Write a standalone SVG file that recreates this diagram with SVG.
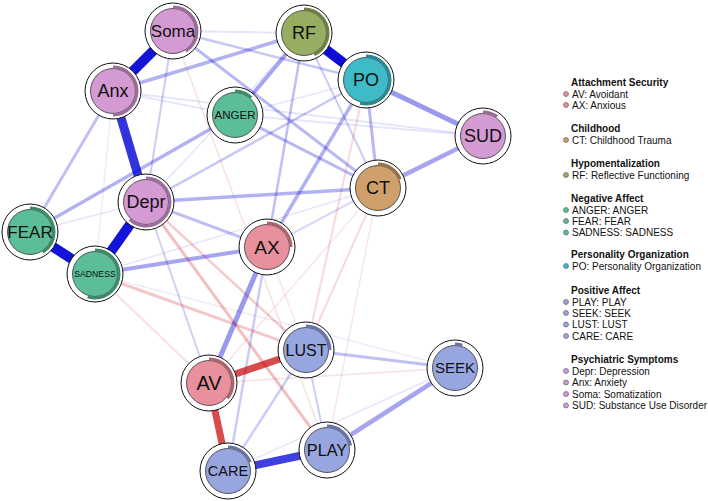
<svg xmlns="http://www.w3.org/2000/svg" width="708" height="501" viewBox="0 0 708 501">
<style>
.p{stroke:#0000D5;fill:none}
.n{stroke:#C80000;fill:none}
.ring{fill:#fff;stroke:#111;stroke-width:1}
.in{stroke:#333;stroke-width:0.8}
.pie{fill:none;stroke-width:3}
.lbl{font-family:"Liberation Sans",Arial,sans-serif;fill:#111;text-anchor:middle}
.psy{fill:#D49AD4}.psyd{stroke:#9B6D9B}
.neg{fill:#5BBE98}.negd{stroke:#3D8A69}
.rf{fill:#97AE62}.rfd{stroke:#6E7E45}
.po{fill:#3EBBC7}.pod{stroke:#2B8891}
.ct{fill:#CFA06B}.ctd{stroke:#977448}
.att{fill:#E8909C}.attd{stroke:#A9646E}
.pos{fill:#98A6E0}.posd{stroke:#6974A6}
.lt{font-family:"Liberation Sans",Arial,sans-serif;font-size:10px;fill:#111}
.lh{font-family:"Liberation Sans",Arial,sans-serif;font-size:10px;font-weight:bold;fill:#111}
.dot{stroke:#555;stroke-width:0.6}
</style>
<rect width="708" height="501" fill="#fff"/>
<g id="connectors">
<!-- faint -->
<line class="p" stroke-width="2" stroke-opacity="0.1" x1="173" y1="31" x2="304" y2="33"/>
<line class="p" stroke-width="2" stroke-opacity="0.1" x1="235" y1="115" x2="483" y2="136"/>
<line class="p" stroke-width="2" stroke-opacity="0.1" x1="113" y1="91" x2="483" y2="136"/>
<line class="p" stroke-width="2" stroke-opacity="0.1" x1="113" y1="91" x2="235" y2="115"/>
<line class="p" stroke-width="1.5" stroke-opacity="0.1" x1="228" y1="471" x2="455" y2="368"/>
<line class="p" stroke-width="1.5" stroke-opacity="0.1" x1="95" y1="274" x2="378" y2="188"/>
<line class="p" stroke-width="1.5" stroke-opacity="0.1" x1="30" y1="232" x2="146" y2="202"/>
<line class="p" stroke-width="1.5" stroke-opacity="0.08" x1="113" y1="91" x2="95" y2="274"/>
<line class="p" stroke-width="1.5" stroke-opacity="0.1" x1="235" y1="115" x2="366" y2="80"/>
<line class="p" stroke-width="1.5" stroke-opacity="0.1" x1="304" y1="33" x2="146" y2="202"/>
<line class="p" stroke-width="1.5" stroke-opacity="0.08" x1="95" y1="274" x2="455" y2="368"/>
<line class="n" stroke-width="1.5" stroke-opacity="0.1" x1="378" y1="188" x2="327" y2="450"/>
<line class="n" stroke-width="1.5" stroke-opacity="0.12" x1="209" y1="383" x2="455" y2="368"/>
<line class="n" stroke-width="1.5" stroke-opacity="0.12" x1="173" y1="31" x2="327" y2="450"/>
<line class="n" stroke-width="1.5" stroke-opacity="0.1" x1="378" y1="188" x2="209" y2="383"/>
<line class="n" stroke-width="1.5" stroke-opacity="0.1" x1="267" y1="247" x2="306" y2="350"/>
<line class="n" stroke-width="2" stroke-opacity="0.12" x1="95" y1="274" x2="209" y2="383"/>
<line class="n" stroke-width="2" stroke-opacity="0.15" x1="366" y1="80" x2="306" y2="350"/>
<line class="n" stroke-width="2" stroke-opacity="0.15" x1="378" y1="188" x2="306" y2="350"/>
<!-- light -->
<line class="p" stroke-width="2" stroke-opacity="0.2" x1="173" y1="31" x2="146" y2="202"/>
<line class="p" stroke-width="2" stroke-opacity="0.2" x1="304" y1="33" x2="378" y2="188"/>
<line class="p" stroke-width="2" stroke-opacity="0.15" x1="267" y1="247" x2="378" y2="188"/>
<line class="p" stroke-width="2.5" stroke-opacity="0.2" x1="267" y1="247" x2="228" y2="471"/>
<line class="p" stroke-width="2" stroke-opacity="0.18" x1="146" y1="202" x2="209" y2="383"/>
<line class="p" stroke-width="2.5" stroke-opacity="0.2" x1="228" y1="471" x2="306" y2="350"/>
<line class="p" stroke-width="2" stroke-opacity="0.2" x1="306" y1="350" x2="327" y2="450"/>
<line class="p" stroke-width="2.5" stroke-opacity="0.22" x1="173" y1="31" x2="366" y2="80"/>
<line class="p" stroke-width="2.5" stroke-opacity="0.22" x1="146" y1="202" x2="366" y2="80"/>
<line class="p" stroke-width="2.5" stroke-opacity="0.25" x1="267" y1="247" x2="304" y2="33"/>
<line class="n" stroke-width="3" stroke-opacity="0.25" x1="146" y1="202" x2="327" y2="450"/>
<line class="n" stroke-width="3" stroke-opacity="0.22" x1="95" y1="274" x2="306" y2="350"/>
<line class="n" stroke-width="2.5" stroke-opacity="0.2" x1="146" y1="202" x2="306" y2="350"/>
<!-- medium -->
<line class="p" stroke-width="3" stroke-opacity="0.25" x1="306" y1="350" x2="455" y2="368"/>
<line class="p" stroke-width="3" stroke-opacity="0.25" x1="30" y1="232" x2="113" y2="91"/>
<line class="p" stroke-width="3" stroke-opacity="0.25" x1="146" y1="202" x2="267" y2="247"/>
<line class="p" stroke-width="3" stroke-opacity="0.28" x1="173" y1="31" x2="378" y2="188"/>
<line class="p" stroke-width="3" stroke-opacity="0.28" x1="235" y1="115" x2="378" y2="188"/>
<line class="p" stroke-width="3" stroke-opacity="0.28" x1="366" y1="80" x2="378" y2="188"/>
<line class="p" stroke-width="3.5" stroke-opacity="0.3" x1="113" y1="91" x2="304" y2="33"/>
<line class="p" stroke-width="3.5" stroke-opacity="0.3" x1="30" y1="232" x2="235" y2="115"/>
<line class="p" stroke-width="3.5" stroke-opacity="0.3" x1="146" y1="202" x2="378" y2="188"/>
<line class="p" stroke-width="3.5" stroke-opacity="0.3" x1="267" y1="247" x2="366" y2="80"/>
<line class="p" stroke-width="4" stroke-opacity="0.35" x1="235" y1="115" x2="304" y2="33"/>
<line class="p" stroke-width="4" stroke-opacity="0.35" x1="95" y1="274" x2="267" y2="247"/>
<line class="p" stroke-width="4.5" stroke-opacity="0.35" x1="483" y1="136" x2="378" y2="188"/>
<line class="p" stroke-width="4.5" stroke-opacity="0.35" x1="327" y1="450" x2="455" y2="368"/>
<line class="p" stroke-width="5" stroke-opacity="0.4" x1="366" y1="80" x2="483" y2="136"/>
<line class="p" stroke-width="5" stroke-opacity="0.4" x1="267" y1="247" x2="209" y2="383"/>
<!-- strong -->
<line class="n" stroke-width="7" stroke-opacity="0.7" x1="209" y1="383" x2="306" y2="350"/>
<line class="n" stroke-width="7" stroke-opacity="0.7" x1="209" y1="383" x2="228" y2="471"/>
<line class="p" stroke-width="8" stroke-opacity="0.75" x1="228" y1="471" x2="327" y2="450"/>
<line class="p" stroke-width="9" stroke-opacity="0.8" x1="113" y1="91" x2="146" y2="202"/>
<line class="p" stroke-width="10" stroke-opacity="0.92" x1="173" y1="31" x2="113" y2="91"/>
<line class="p" stroke-width="10" stroke-opacity="0.92" x1="146" y1="202" x2="95" y2="274"/>
<line class="p" stroke-width="10" stroke-opacity="0.92" x1="30" y1="232" x2="95" y2="274"/>
<line class="p" stroke-width="10" stroke-opacity="0.95" x1="304" y1="33" x2="366" y2="80"/>
</g>
<g id="node-Soma" transform="translate(173,31)"><circle class="ring" r="28"/><circle class="in psy" r="22.5"/><circle class="pie psyd" r="24" pathLength="100" stroke-dasharray="41 100" transform="rotate(-90)"/><text class="lbl" font-size="17" dy="0.35em">Soma</text></g>
<g id="node-RF" transform="translate(304,33)"><circle class="ring" r="28"/><circle class="in rf" r="22.5"/><circle class="pie rfd" r="24" pathLength="100" stroke-dasharray="43 100" transform="rotate(-90)"/><text class="lbl" font-size="18" dy="0.35em">RF</text></g>
<g id="node-Anx" transform="translate(113,91)"><circle class="ring" r="28"/><circle class="in psy" r="22.5"/><circle class="pie psyd" r="24" pathLength="100" stroke-dasharray="50 100" transform="rotate(-90)"/><text class="lbl" font-size="18" dy="0.35em">Anx</text></g>
<g id="node-PO" transform="translate(366,80)"><circle class="ring" r="28"/><circle class="in po" r="22.5"/><circle class="pie pod" r="24" pathLength="100" stroke-dasharray="54 100" transform="rotate(-90)"/><text class="lbl" font-size="18" dy="0.35em">PO</text></g>
<g id="node-ANGER" transform="translate(235,115)"><circle class="ring" r="28"/><circle class="in neg" r="22.5"/><circle class="pie negd" r="24" pathLength="100" stroke-dasharray="12 100" transform="rotate(-90)"/><text class="lbl" font-size="11.5" dy="0.35em">ANGER</text></g>
<g id="node-SUD" transform="translate(483,136)"><circle class="ring" r="28"/><circle class="in psy" r="22.5"/><circle class="pie psyd" r="24" pathLength="100" stroke-dasharray="10 100" transform="rotate(-90)"/><text class="lbl" font-size="18" dy="0.35em">SUD</text></g>
<g id="node-CT" transform="translate(378,188)"><circle class="ring" r="28"/><circle class="in ct" r="22.5"/><circle class="pie ctd" r="24" pathLength="100" stroke-dasharray="19 100" transform="rotate(-90)"/><text class="lbl" font-size="18" dy="0.35em">CT</text></g>
<g id="node-Depr" transform="translate(146,202)"><circle class="ring" r="28"/><circle class="in psy" r="22.5"/><circle class="pie psyd" r="24" pathLength="100" stroke-dasharray="62 100" transform="rotate(-90)"/><text class="lbl" font-size="18" dy="0.35em">Depr</text></g>
<g id="node-FEAR" transform="translate(30,232)"><circle class="ring" r="28"/><circle class="in neg" r="22.5"/><circle class="pie negd" r="24" pathLength="100" stroke-dasharray="41 100" transform="rotate(-90)"/><text class="lbl" font-size="17" dy="0.35em">FEAR</text></g>
<g id="node-AX" transform="translate(267,247)"><circle class="ring" r="28"/><circle class="in att" r="22.5"/><circle class="pie attd" r="24" pathLength="100" stroke-dasharray="25 100" transform="rotate(-90)"/><text class="lbl" font-size="19" dy="0.35em">AX</text></g>
<g id="node-SADNESS" transform="translate(95,274)"><circle class="ring" r="28"/><circle class="in neg" r="22.5"/><circle class="pie negd" r="24" pathLength="100" stroke-dasharray="55 100" transform="rotate(-90)"/><text class="lbl" font-size="8.7" dy="0.35em">SADNESS</text></g>
<g id="node-LUST" transform="translate(306,350)"><circle class="ring" r="28"/><circle class="in pos" r="22.5"/><circle class="pie posd" r="24" pathLength="100" stroke-dasharray="25 100" transform="rotate(-90)"/><text class="lbl" font-size="16" dy="0.35em">LUST</text></g>
<g id="node-SEEK" transform="translate(455,368)"><circle class="ring" r="28"/><circle class="in pos" r="22.5"/><circle class="pie posd" r="24" pathLength="100" stroke-dasharray="5 100" transform="rotate(-90)"/><text class="lbl" font-size="15" dy="0.35em">SEEK</text></g>
<g id="node-AV" transform="translate(209,383)"><circle class="ring" r="28"/><circle class="in att" r="22.5"/><circle class="pie attd" r="24" pathLength="100" stroke-dasharray="36 100" transform="rotate(-90)"/><text class="lbl" font-size="20" dy="0.35em">AV</text></g>
<g id="node-PLAY" transform="translate(327,450)"><circle class="ring" r="28"/><circle class="in pos" r="22.5"/><circle class="pie posd" r="24" pathLength="100" stroke-dasharray="22 100" transform="rotate(-90)"/><text class="lbl" font-size="16.3" dy="0.35em">PLAY</text></g>
<g id="node-CARE" transform="translate(228,471)"><circle class="ring" r="28"/><circle class="in pos" r="22.5"/><circle class="pie posd" r="24" pathLength="100" stroke-dasharray="19 100" transform="rotate(-90)"/><text class="lbl" font-size="14.5" dy="0.35em">CARE</text></g>
<g id="legend">
<text class="lh" x="571" y="86">Attachment Security</text>
<circle class="dot att" cx="566" cy="94" r="2.5"/><text class="lt" x="572" y="97.5">AV: Avoidant</text>
<circle class="dot att" cx="566" cy="105" r="2.5"/><text class="lt" x="572" y="108.5">AX: Anxious</text>
<text class="lh" x="571" y="132">Childhood</text>
<circle class="dot ct" cx="566" cy="140" r="2.5"/><text class="lt" x="572" y="143.5">CT: Childhood Trauma</text>
<text class="lh" x="571" y="167">Hypomentalization</text>
<circle class="dot rf" cx="566" cy="175" r="2.5"/><text class="lt" x="572" y="178.5">RF: Reflective Functioning</text>
<text class="lh" x="571" y="202">Negative Affect</text>
<circle class="dot neg" cx="566" cy="210" r="2.5"/><text class="lt" x="572" y="213.5">ANGER: ANGER</text>
<circle class="dot neg" cx="566" cy="221" r="2.5"/><text class="lt" x="572" y="224.5">FEAR: FEAR</text>
<circle class="dot neg" cx="566" cy="232.5" r="2.5"/><text class="lt" x="572" y="236">SADNESS: SADNESS</text>
<text class="lh" x="571" y="258">Personality Organization</text>
<circle class="dot po" cx="566" cy="266" r="2.5"/><text class="lt" x="572" y="269.5">PO: Personality Organization</text>
<text class="lh" x="571" y="294">Positive Affect</text>
<circle class="dot pos" cx="566" cy="302" r="2.5"/><text class="lt" x="572" y="305.5">PLAY: PLAY</text>
<circle class="dot pos" cx="566" cy="313" r="2.5"/><text class="lt" x="572" y="316.5">SEEK: SEEK</text>
<circle class="dot pos" cx="566" cy="324.5" r="2.5"/><text class="lt" x="572" y="328">LUST: LUST</text>
<circle class="dot pos" cx="566" cy="336" r="2.5"/><text class="lt" x="572" y="339.5">CARE: CARE</text>
<text class="lh" x="571" y="363">Psychiatric Symptoms</text>
<circle class="dot psy" cx="566" cy="371" r="2.5"/><text class="lt" x="572" y="374.5">Depr: Depression</text>
<circle class="dot psy" cx="566" cy="382.5" r="2.5"/><text class="lt" x="572" y="386">Anx: Anxiety</text>
<circle class="dot psy" cx="566" cy="394" r="2.5"/><text class="lt" x="572" y="397.5">Soma: Somatization</text>
<circle class="dot psy" cx="566" cy="405.5" r="2.5"/><text class="lt" x="572" y="409">SUD: Substance Use Disorder</text>
</g>
</svg>
